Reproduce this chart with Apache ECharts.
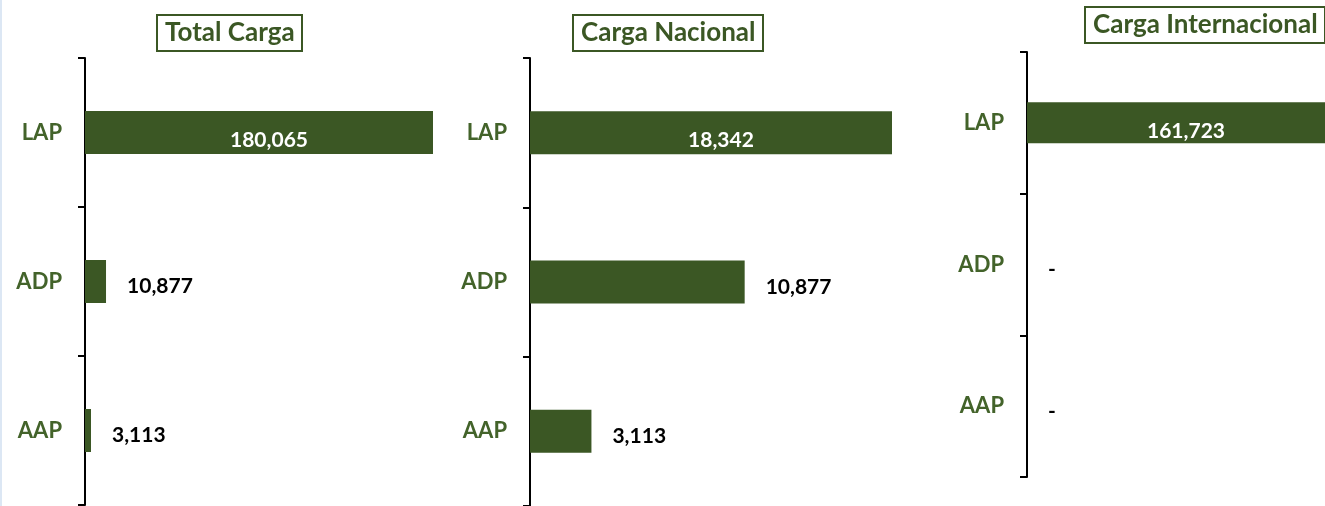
<!DOCTYPE html>
<html>
<head>
<meta charset="utf-8">
<script src="https://cdn.jsdelivr.net/npm/echarts@6/dist/echarts.min.js"></script>
<style>
  html, body { margin: 0; padding: 0; background: #fff; }
  #chart { width: 1325px; height: 506px; }
</style>
</head>
<body>
<div id="chart"></div>
<script>
// datos
const categorias = ['LAP', 'ADP', 'AAP'];
const titulos = ['Total Carga', 'Carga Nacional', 'Carga Internacional'];
const totalCarga = [180065, 10877, 3113];
const cargaNacional = [18342, 10877, 3113];
const cargaInternacional = [161723, 0, 0];

const verde = '#3b5724';
const verdeTexto = '#43632a';
const fuente = 'Lato';

// posiciones de cada panel
const paneles = [
    { datos: totalCarga, left: 85, top: 58, width: 348, height: 447, barra: 43, tituloX: 157, tituloY: 15 },
    { datos: cargaNacional, left: 530, top: 58, width: 362, height: 450, barra: 43, tituloX: 573, tituloY: 15 },
    { datos: cargaInternacional, left: 1027, top: 52, width: 380, height: 425, barra: 41, tituloX: 1085, tituloY: 7 }
];

function formato(v) {
    return v === 0 ? '-' : v.toLocaleString('en-US');
}

let myChart = echarts.init(document.getElementById('chart'));

let grid = [], xAxis = [], yAxis = [], series = [], title = [];

paneles.forEach(function (p, i) {
    let max = Math.max.apply(null, p.datos);
    grid.push({ left: p.left, top: p.top, width: p.width, height: p.height });
    title.push({
        text: titulos[i],
        left: p.tituloX,
        top: p.tituloY,
        padding: [5, 8, 5, 8],
        borderColor: verde,
        borderWidth: 2,
        textStyle: { color: verde, fontFamily: fuente, fontWeight: 'bold', fontSize: 26 }
    });
    xAxis.push({
        type: 'value',
        gridIndex: i,
        min: 0,
        max: max,
        show: false
    });
    yAxis.push({
        type: 'category',
        gridIndex: i,
        inverse: true,
        data: categorias,
        axisLine: { lineStyle: { color: '#000', width: 2 } },
        axisTick: { show: true, length: 7, lineStyle: { color: '#000', width: 2 } },
        axisLabel: { color: verdeTexto, fontFamily: fuente, fontWeight: 'bold', fontSize: 22, margin: 23 },
        splitLine: { show: false }
    });
    series.push({
        type: 'bar',
        xAxisIndex: i,
        yAxisIndex: i,
        barWidth: p.barra,
        itemStyle: { color: verde },
        data: p.datos.map(function (v) {
            // la barra mayor lleva la etiqueta dentro
            let dentro = v === max;
            return {
                value: v,
                label: dentro
                    ? { position: 'inside', color: '#fff', offset: [10, 8] }
                    : { position: 'right', color: '#000', distance: 21, offset: [0, 5] }
            };
        }),
        label: {
            show: true,
            fontFamily: fuente,
            fontWeight: 'bold',
            fontSize: 21,
            formatter: function (d) { return formato(d.value); }
        }
    });
});

option = {
    backgroundColor: '#fff',
    animation: false,
    title: title,
    grid: grid,
    xAxis: xAxis,
    yAxis: yAxis,
    series: series,
    graphic: [{
        type: 'rect',
        left: 0,
        top: 0,
        shape: { width: 2, height: 506 },
        style: { fill: '#dce7f4' }
    }]
};
myChart.setOption(option);
</script>
</body>
</html>
